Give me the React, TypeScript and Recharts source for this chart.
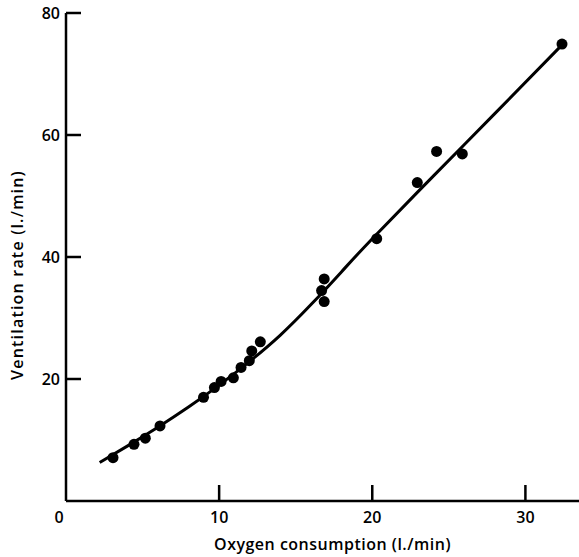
import React from "react";
import {
  ComposedChart,
  Line,
  Scatter,
  XAxis,
  YAxis,
  Label,
} from "recharts";

document.body.style.margin = "0";

// observed points (oxygen consumption l./min, ventilation l./min)
const oxygen = [
  3.07, 4.44, 5.18, 6.14, 8.98, 9.69, 10.13, 10.93, 11.43, 11.97, 12.13, 12.69,
  16.69, 16.86, 16.86, 20.29, 22.94, 24.2, 25.88, 32.39,
];
const ventilation = [
  7.1, 9.3, 10.3, 12.3, 17.0, 18.6, 19.6, 20.2, 21.9, 23.0, 24.6, 26.1,
  34.5, 36.4, 32.7, 43.0, 52.2, 57.3, 56.9, 74.9,
];

// fitted curve
const curveX = [2.2, 4, 6, 8, 10, 12, 14, 16, 18, 20, 24, 28, 32.6];
const curveY = [6.3, 9.0, 12.1, 15.4, 19.0, 22.9, 27.2, 32.2, 37.6, 43.0, 53.3, 63.5, 75.3];

const xTicks = [0, 10, 20, 30];
const yTicks = [20, 40, 60, 80];

const points = oxygen.map((x, i) => ({ x, y: ventilation[i] }));
const curve = curveX.map((x, i) => ({ x, y: curveY[i] }));

const FONT = "'Open Sans', sans-serif";

function XTick(props: any) {
  const { x, y, payload } = props;
  const isZero = payload.value === 0;
  return (
    <g>
      {!isZero && (
        <line x1={x} y1={y - 16} x2={x} y2={y} stroke="#000" strokeWidth={2.5} />
      )}
      <text
        x={isZero ? x - 7 : x}
        y={y + 22}
        textAnchor="middle"
        fontFamily={FONT}
        fontWeight={600}
        fontSize={16}
        fill="#000"
      >
        {payload.value}
      </text>
    </g>
  );
}

function YTick(props: any) {
  const { x, y, payload } = props;
  return (
    <g>
      <line x1={x} y1={y} x2={x + 15} y2={y} stroke="#000" strokeWidth={2.5} />
      <text
        x={x - 6}
        y={y + 6}
        textAnchor="end"
        fontFamily={FONT}
        fontWeight={600}
        fontSize={16}
        fill="#000"
      >
        {payload.value}
      </text>
    </g>
  );
}

export default function App() {
  return (
    <div style={{ width: 579, height: 557, background: "#fff" }}>
      <ComposedChart
        width={579}
        height={557}
        margin={{ top: 13, right: 0, bottom: 0, left: 0 }}
      >
        <XAxis
          type="number"
          dataKey="x"
          domain={[0, 33.5]}
          ticks={xTicks}
          tick={<XTick />}
          tickLine={false}
          tickSize={0}
          tickMargin={0}
          axisLine={{ stroke: "#000", strokeWidth: 2.5 }}
          allowDataOverflow
          height={56}
        >
          <Label
            value="Oxygen consumption (l./min)"
            position="insideBottom"
            offset={7}
            dx={10}
            style={{ fontFamily: FONT, fontWeight: 600, fontSize: 16, fill: "#000", letterSpacing: 0.5 }}
          />
        </XAxis>
        <YAxis
          type="number"
          dataKey="y"
          domain={[0, 80]}
          ticks={yTicks}
          tick={<YTick />}
          tickLine={false}
          tickSize={0}
          tickMargin={0}
          axisLine={{ stroke: "#000", strokeWidth: 2.5 }}
          width={66}
        >
          <Label
            value="Ventilation rate (l./min)"
            angle={-90}
            position="insideLeft"
            offset={0}
            dx={17}
            dy={18}
            style={{ fontFamily: FONT, fontWeight: 600, fontSize: 16, fill: "#000", letterSpacing: 1.2, textAnchor: "middle" }}
          />
        </YAxis>
        <Line
          data={curve}
          dataKey="y"
          type="natural"
          stroke="#000"
          strokeWidth={3}
          dot={false}
          isAnimationActive={false}
        />
        <Scatter
          data={points}
          dataKey="y"
          fill="#000"
          shape={(p: any) => <circle cx={p.cx} cy={p.cy} r={5.5} fill="#000" />}
          isAnimationActive={false}
        />
      </ComposedChart>
    </div>
  );
}
